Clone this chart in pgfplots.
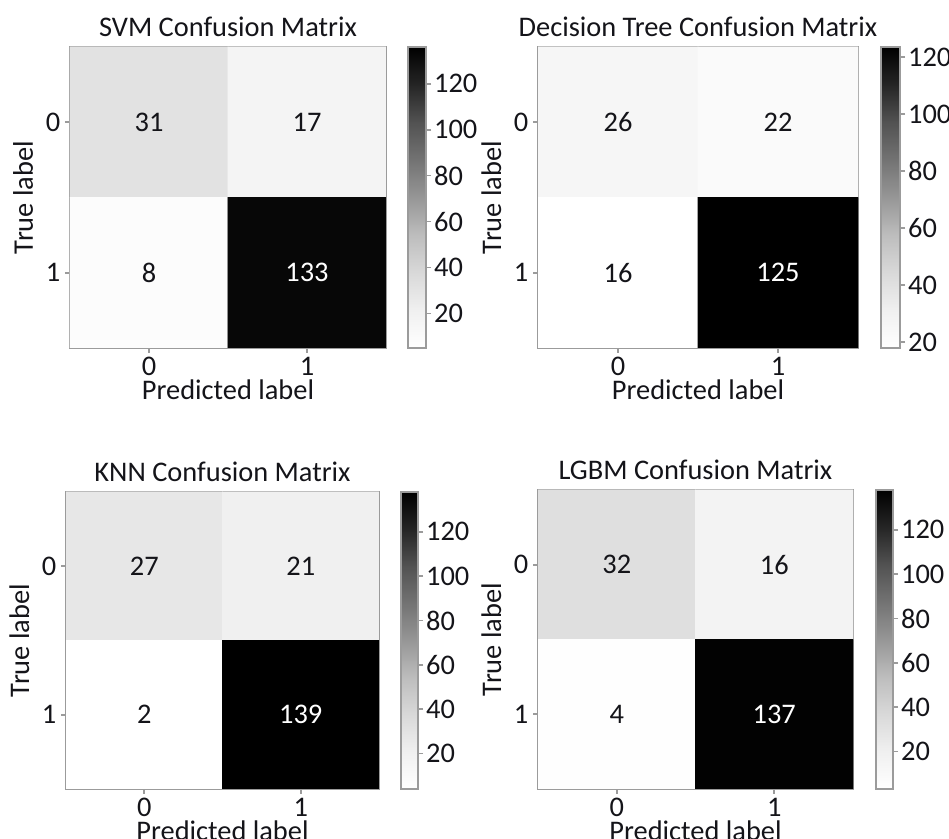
\documentclass[border=0pt]{standalone}
\usepackage{fontspec}
\setmainfont{Carlito}
\usepackage{pgfplots}
\pgfplotsset{compat=1.18}
\newcommand{\cmfont}{\fontsize{14.2pt}{17pt}\selectfont}
\definecolor{frame}{RGB}{155,155,155}
\definecolor{txt}{RGB}{20,20,25}
\pgfplotsset{
  colormap={greys}{rgb255=(255,255,255) rgb255=(240,240,240) rgb255=(217,217,217) rgb255=(189,189,189) rgb255=(150,150,150) rgb255=(115,115,115) rgb255=(82,82,82) rgb255=(37,37,37) rgb255=(0,0,0)},
  cm/.style={
    scale only axis,
    anchor=south west,
    xmin=-0.5, xmax=1.5, ymin=-0.5, ymax=1.5,
    y dir=reverse,
    xtick={0,1}, ytick={0,1},
    xticklabels={0,1}, yticklabels={0,1},
    xtick pos=bottom, ytick pos=left,
    tick align=outside,
    major tick length=2.5pt,
    tick style={frame, line width=0.8pt},
    axis line style={frame, line width=1.4pt},
    tick label style={font=\cmfont, text=txt},
    xticklabel style={anchor=base, yshift=-11.5pt},
    yticklabel style={anchor=east, xshift=1.2pt},
    every axis title shift=0pt,
    title style={font=\cmfont, text=txt, at={(0.5,1)}, anchor=base, yshift=5pt},
    every axis x label/.style={at={(axis description cs:0.5,0)}, anchor=base, yshift=-26pt, font=\cmfont, text=txt},
    every axis y label/.style={at={(axis description cs:0,0.5)}, rotate=90, anchor=base, yshift=18.5pt, font=\cmfont, text=txt},
    xlabel={Predicted label}, ylabel={True label},
    colormap name=greys,
    colorbar,
    /pgf/number format/assume math mode=true,
    colorbar style={
      at={(parent axis.south east)}, anchor=south west, xshift=2.5pt,
      width=9pt, scale only axis,
      ytick={20,40,60,80,100,120},
      tick align=outside,
      major tick length=2.5pt,
      yticklabel pos=right,
      ytick pos=right,
      tick style={frame, line width=0.8pt},
      axis line style={frame, line width=1.4pt},
      tick label style={font=\cmfont, text=txt},
      yticklabel style={anchor=west, xshift=-2pt},
      /pgf/number format/assume math mode=true,
    },
  },
  cmplot/.style={matrix plot*, point meta=explicit, mesh/cols=2, mesh/rows=2, draw=none},
  blk/.style={only marks, mark=none, nodes near coords, point meta=explicit symbolic,
    nodes near coords style={anchor=center, font=\cmfont, text=txt}},
  wht/.style={only marks, mark=none, nodes near coords, point meta=explicit symbolic,
    nodes near coords style={anchor=center, font=\cmfont, text=white}},
}
\begin{document}
\begin{tikzpicture}
\path[use as bounding box] (0,0) rectangle (474.5pt,419.5pt);

% SVM
\begin{axis}[cm, at={(35pt,245.5pt)}, width=158pt, height=150.5pt,
  point meta min=5, point meta max=136,
  title={SVM Confusion Matrix}, colorbar style={height=150.5pt}]
\addplot[cmplot] table[meta=c] {
x y c
0 0 31
1 0 17
0 1 8
1 1 133
};
\addplot[blk] table[meta=c] {
x y c
0 0 31
1 0 17
0 1 8
};
\addplot[wht] table[meta=c] {
x y c
1 1 133
};
\end{axis}

% Decision Tree
\begin{axis}[cm, at={(269pt,245.5pt)}, width=160pt, height=150.5pt,
  point meta min=18, point meta max=123.5,
  title={Decision Tree Confusion Matrix}, colorbar style={height=150.5pt, xshift=0.5pt, width=9.5pt}]
\addplot[cmplot] table[meta=c] {
x y c
0 0 26
1 0 22
0 1 16
1 1 125
};
\addplot[blk] table[meta=c] {
x y c
0 0 26
1 0 22
0 1 16
};
\addplot[wht] table[meta=c] {
x y c
1 1 125
};
\end{axis}

% KNN
\begin{axis}[cm, at={(33pt,25pt)}, width=156.5pt, height=148.5pt,
  point meta min=4, point meta max=138,
  title={KNN Confusion Matrix}, colorbar style={height=148.5pt, width=8.5pt}]
\addplot[cmplot] table[meta=c] {
x y c
0 0 27
1 0 21
0 1 2
1 1 139
};
\addplot[blk] table[meta=c] {
x y c
0 0 27
1 0 21
0 1 2
};
\addplot[wht] table[meta=c] {
x y c
1 1 139
};
\end{axis}

% LGBM
\begin{axis}[cm, at={(269pt,25pt)}, width=157.5pt, height=149.5pt,
  point meta min=3, point meta max=138,
  title={LGBM Confusion Matrix}, colorbar style={height=149.5pt, xshift=0.5pt, width=8.5pt}]
\addplot[cmplot] table[meta=c] {
x y c
0 0 32
1 0 16
0 1 4
1 1 137
};
\addplot[blk] table[meta=c] {
x y c
0 0 32
1 0 16
0 1 4
};
\addplot[wht] table[meta=c] {
x y c
1 1 137
};
\end{axis}
\end{tikzpicture}
\end{document}
